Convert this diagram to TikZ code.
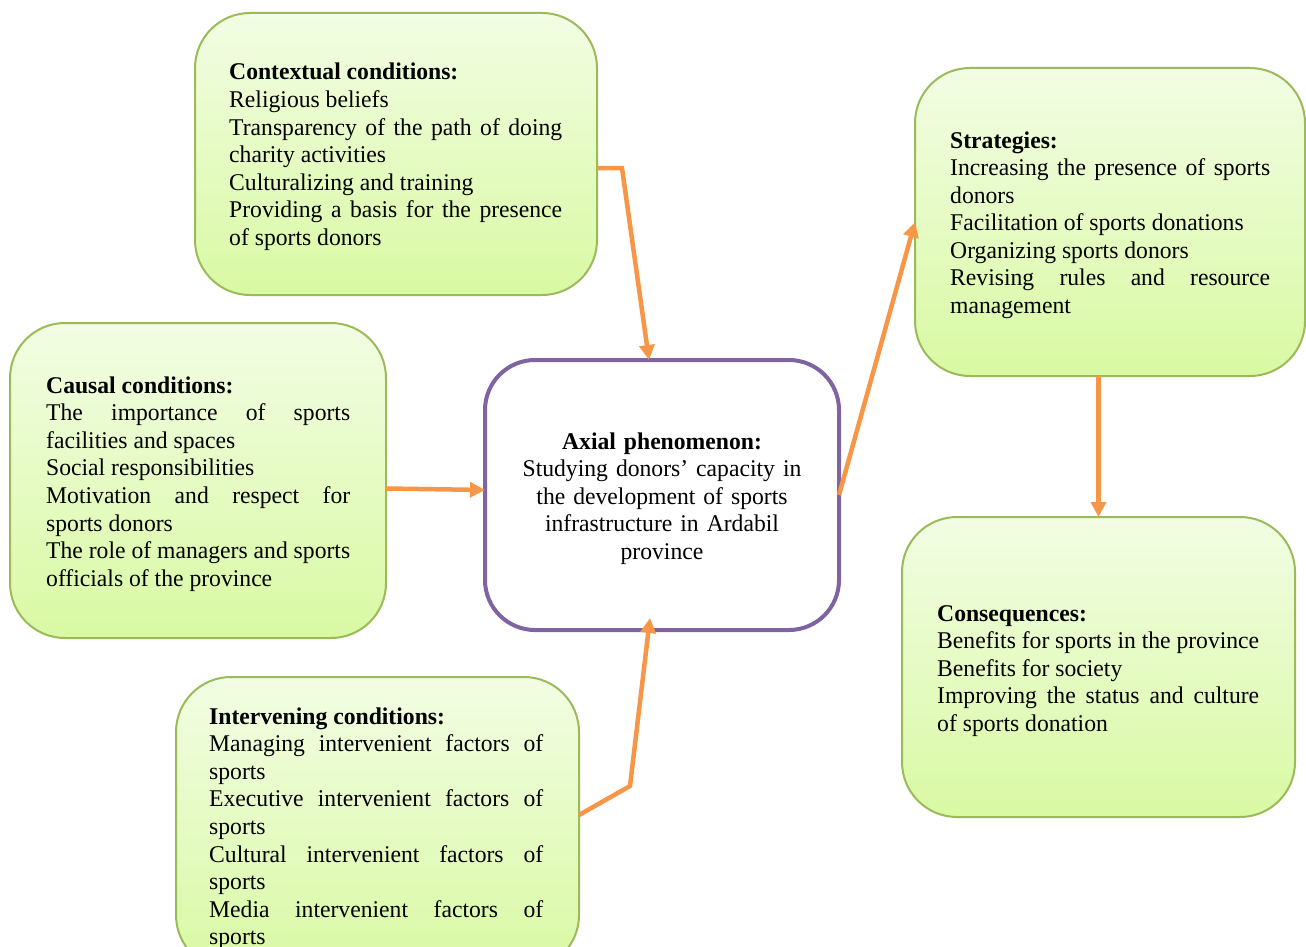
\documentclass[tikz,border=0pt]{standalone}
\usepackage{fontspec}
\setmainfont[FakeStretch=0.985]{Liberation Serif}
\usetikzlibrary{arrows.meta,calc}
\definecolor{gtop}{HTML}{F2FDE4}
\definecolor{gbot}{HTML}{D9F9A3}
\definecolor{gline}{HTML}{9BBB59}
\definecolor{purp}{HTML}{8064A2}
\definecolor{orng}{HTML}{F79646}
\newcommand\bodyfont{\fontsize{24}{27.6}\selectfont}
\newcommand\jline[1]{\makebox[\hsize][s]{#1}}
\begin{document}
\begin{tikzpicture}[x=1pt,y=-1pt,
  gbox/.style={draw=gline,line width=2pt,rounded corners=55pt,top color=gtop,bottom color=gbot,inner sep=0pt,outer sep=0pt},
  cbox/.style={draw=purp,line width=4pt,rounded corners=50pt,fill=white,inner sep=0pt,outer sep=0pt},
  txt/.style={anchor=base west,inner sep=0pt,align=justify,font=\bodyfont},
  arr/.style={draw=orng,line width=4.5pt,-{Triangle[length=15pt,width=15pt]}}]
\useasboundingbox (0,0) rectangle (1306,947);
\clip (0,0) rectangle (1306,947);
% boxes
\node[gbox,minimum width=402pt,minimum height=282pt] (ctx) at (396,154) {};
\node[gbox,minimum width=376pt,minimum height=315pt] (cau) at (198,480.5) {};
\node[gbox,minimum width=403pt,minimum height=293pt] (itv) at (377.5,823.5) {};
\node[cbox,minimum width=354pt,minimum height=270pt] (ctr) at (662,495) {};
\node[gbox,minimum width=390pt,minimum height=308pt] (str) at (1110,222) {};
\node[gbox,minimum width=393pt,minimum height=300pt] (con) at (1098.5,667) {};
% texts
\node[txt,text width=333pt] (ctxt) at (229,80) {\textbf{Contextual conditions:}\\
Religious beliefs\\
\jline{Transparency of the path of doing}\\
charity activities\\
Culturalizing and training\\
\jline{Providing a basis for the presence}\\
of sports donors};
\node[txt,text width=304pt] (caut) at (46,393) {\textbf{Causal conditions:}\\
\jline{The importance of sports}\\
facilities and spaces\\
Social responsibilities\\
\jline{Motivation and respect for}\\
sports donors\\
\jline{The role of managers and sports}\\
officials of the province};
\node[txt,text width=334pt] (itvt) at (209,724) {\textbf{Intervening conditions:}\\
\jline{Managing intervenient factors of}\\
sports\\
\jline{Executive intervenient factors of}\\
sports\\
\jline{Cultural intervenient factors of}\\
sports\\
\jline{Media intervenient factors of}\\
sports};
\node[txt,anchor=base,text width=300pt,align=center] (ctrt) at (662,449) {\textbf{Axial phenomenon:}\\
Studying donors’ capacity in\\
the development of sports\\
infrastructure in Ardabil\\
province};
\node[txt,text width=320pt] (strt) at (950,148) {\textbf{Strategies:}\\
\jline{Increasing the presence of sports}\\
donors\\
Facilitation of sports donations\\
Organizing sports donors\\
\jline{Revising rules and resource}\\
management};
\node[txt,text width=322pt] (cont) at (937,621) {\textbf{Consequences:}\\
\jline{Benefits for sports in the province}\\
Benefits for society\\
\jline{Improving the status and culture}\\
of sports donation};
% connectors
\coordinate (b1) at (622,168);
\coordinate (b2) at (630,786);
\draw[arr] ($(ctx.east)+(0,14)$) -- (b1) -- ($(ctr.north)+(-13,0)$);
\draw[arr] ($(cau.east)+(0,8)$) -- ($(ctr.west)+(0,-5)$);
\draw[arr] ($(itv.east)+(0,-8.5)$) -- (b2) -- ($(ctr.south)+(-12,-12)$);
\draw[arr] (ctr.east) -- (str.west);
\draw[arr] (str.south -| con.north) -- (con.north);
\end{tikzpicture}
\end{document}
